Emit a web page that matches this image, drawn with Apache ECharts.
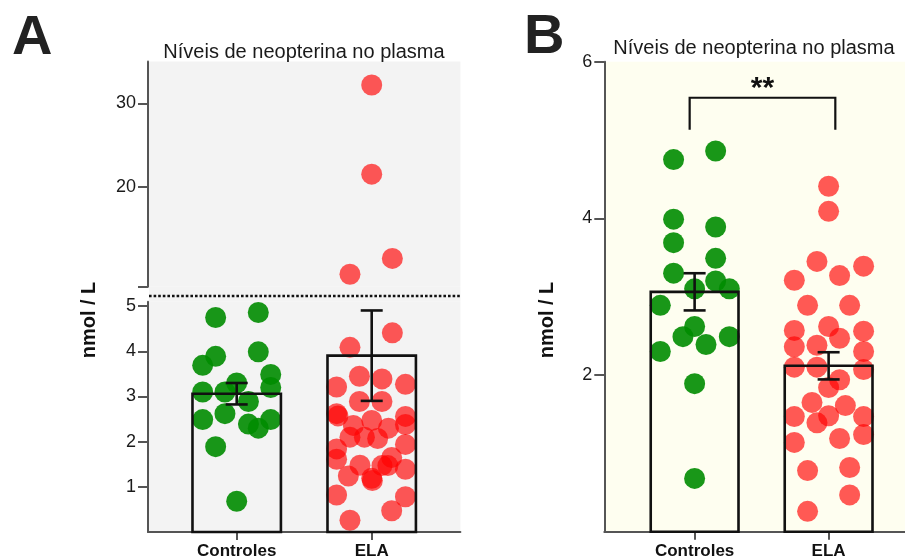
<!DOCTYPE html>
<html>
<head>
<meta charset="utf-8">
<script src="https://cdn.jsdelivr.net/npm/echarts@6/dist/echarts.min.js"></script>
<style>
  html, body { margin: 0; padding: 0; background: #ffffff; }
  #chart { width: 905px; height: 558px; }
</style>
</head>
<body>
<div id="chart"></div>
<script>
// ---- data -------------------------------------------------------------
const categories = ['Controles', 'ELA'];

// plasma neopterin, nmol/L
const ctrlValues = [4.86, 4.75, 3.99, 3.89, 3.69, 3.49, 3.30, 3.20, 3.10, 3.10,
                    2.89, 2.62, 2.49, 2.49, 2.39, 2.30, 1.89, 0.68];
const elaValues = [4.41, 4.09, 3.45, 3.39, 3.27, 3.21, 2.89, 2.89, 2.62, 2.57,
                   2.56, 2.47, 2.38, 2.36, 2.30, 2.10, 2.10, 2.07, 1.94, 1.84,
                   1.65, 1.61, 1.48, 1.47, 1.47, 1.39, 1.24, 1.19, 1.14, 0.82,
                   0.78, 0.47, 0.26];
const elaOutliers = [32.2, 21.5, 11.4, 9.5];   // shown only in panel A

// horizontal scatter of the dots, in category units
const ctrlJitterA = [0.16, -0.156, 0.16, -0.156, -0.252, 0.252, 0, 0.252, -0.252, -0.087,
                     0.087, -0.087, -0.252, 0.252, 0.087, 0.16, -0.156, 0];
const ctrlJitterB = [0.157, -0.157, -0.157, 0.157, -0.157, 0.157, -0.157, 0.157, 0, 0.259,
                     -0.256, 0, -0.087, 0.259, 0.085, -0.256, 0, 0];
const elaJitterA = [0.153, -0.161, -0.091, 0.076, 0.25, -0.26, -0.091, 0.076, -0.26, -0.25,
                    0.25, 0, 0.25, -0.136, 0.124, -0.161, -0.054, 0.044, 0.25, -0.26,
                    0.148, -0.26, -0.087, 0.076, 0.12, 0.25, -0.173, 0, 0.005, -0.26,
                    0.25, 0.148, -0.161];
const elaJitterB = [0, 0, -0.087, 0.261, 0.082, -0.256, -0.157, 0.157, 0, -0.256,
                    0.261, 0.082, -0.087, -0.256, 0.261, -0.256, -0.087, 0.261, 0.082, 0,
                    -0.124, 0.125, 0, -0.256, 0.261, -0.087, 0.261, 0.082, -0.256, 0.157,
                    -0.157, 0.157, -0.157];
const elaOutlierJitterA = [0, 0, 0.153, -0.161];

// axis ticks
const upperTicksA = [8, 20, 30];
const upperLabelsA = [20, 30];
const lowerTicksA = [1, 2, 3, 4, 5];
const ticksB = [2, 4, 6];

const panelTitle = 'Níveis de neopterina no plasma';
const yName = 'nmol / L';
const signifText = '**';

// ---- helpers ----------------------------------------------------------
function mean(a) { return a.reduce((s, v) => s + v, 0) / a.length; }
function sem(a) {
  const m = mean(a);
  const v = a.reduce((s, x) => s + (x - m) * (x - m), 0) / (a.length - 1);
  return Math.sqrt(v / a.length);
}
function dots(values, jitter, cat) { return values.map((v, i) => [cat + jitter[i], v]); }

const elaAll = elaOutliers.concat(elaValues);
const statsA = [ctrlValues, elaAll].map(a => [mean(a), sem(a)]);
const statsB = [ctrlValues, elaValues].map(a => [mean(a), sem(a)]);

const FONT = "'Liberation Sans', Arial, sans-serif";
const AXIS_COLOR = '#555555';
const GREEN = 'rgba(0,140,0,0.9)';
const RED = 'rgba(255,0,0,0.65)';
const BAR_W = 0.655;

function xAxisCfg(grid, span, shown) {
  return {
    gridIndex: grid, type: 'value', min: -span, max: 1 + span, show: shown,
    axisLine: { show: true, onZero: false, lineStyle: { color: AXIS_COLOR, width: 2 } },
    axisTick: { show: true, customValues: [0, 1], length: 8, lineStyle: { color: AXIS_COLOR, width: 2 } },
    axisLabel: { customValues: [0, 1], formatter: v => categories[Math.round(v)],
                 fontFamily: FONT, fontWeight: 'bold', fontSize: 17, color: '#111', margin: 11 },
    splitLine: { show: false }
  };
}
function yAxisCfg(grid, min, max, ticks, labels) {
  return {
    gridIndex: grid, type: 'value', min: min, max: max,
    axisLine: { show: true, onZero: false, lineStyle: { color: AXIS_COLOR, width: 2 } },
    axisTick: { show: true, customValues: ticks, length: 10, lineStyle: { color: AXIS_COLOR, width: 2 } },
    axisLabel: { customValues: labels, fontFamily: FONT, fontSize: 18, color: '#1a1a1a', margin: 12 },
    splitLine: { show: false }
  };
}
function scatter(xi, data, color) {
  return { type: 'scatter', xAxisIndex: xi, yAxisIndex: xi, data: data, symbol: 'circle',
           symbolSize: 21, itemStyle: { color: color, borderWidth: 0, opacity: 1 }, z: 2, silent: true };
}
function bars(xi, stats) {
  return {
    type: 'custom', xAxisIndex: xi, yAxisIndex: xi, z: 3, silent: true,
    data: stats.map((s, i) => [i, s[0]]),
    encode: { x: 0, y: 1 },
    renderItem: function (params, api) {
      const base = api.coord([api.value(0), 0]);
      const top = api.coord([api.value(0), api.value(1)]);
      const w = api.size([BAR_W, 0])[0];
      return { type: 'rect',
        shape: { x: base[0] - w / 2, y: top[1], width: w, height: base[1] - top[1] },
        style: { fill: 'none', stroke: '#111', lineWidth: 2.6 } };
    }
  };
}
function errors(xi, stats) {
  return {
    type: 'custom', xAxisIndex: xi, yAxisIndex: xi, z: 4, silent: true,
    data: stats.map((s, i) => [i, s[0] - s[1], s[0] + s[1]]),
    encode: { x: 0, y: [1, 2] },
    renderItem: function (params, api) {
      const lo = api.coord([api.value(0), api.value(1)]);
      const hi = api.coord([api.value(0), api.value(2)]);
      const c = 11;
      const st = { stroke: '#111', lineWidth: 2.6 };
      return { type: 'group', children: [
        { type: 'line', shape: { x1: lo[0], y1: lo[1], x2: hi[0], y2: hi[1] }, style: st },
        { type: 'line', shape: { x1: hi[0] - c, y1: hi[1], x2: hi[0] + c, y2: hi[1] }, style: st },
        { type: 'line', shape: { x1: lo[0] - c, y1: lo[1], x2: lo[0] + c, y2: lo[1] }, style: st }
      ] };
    }
  };
}

const gridBase = { show: true, borderWidth: 0, containLabel: false, outerBoundsMode: 'none' };
const spanA = 0.657, spanB = 0.674;

const option = {
  animation: false,
  backgroundColor: '#ffffff',
  grid: [
    Object.assign({ left: 148, top: 61.6, width: 312.4, height: 225.2, backgroundColor: '#f3f3f3' }, gridBase),
    Object.assign({ left: 148, top: 301.7, width: 312.4, height: 230.3, backgroundColor: '#f3f3f3' }, gridBase),
    Object.assign({ left: 604.3, top: 61.7, width: 134 * (1 + 2 * spanB), height: 470, backgroundColor: '#fefef0' }, gridBase)
  ],
  xAxis: [xAxisCfg(0, spanA, false), xAxisCfg(1, spanA, true), xAxisCfg(2, spanB, true)],
  yAxis: [
    yAxisCfg(0, 8, 35, upperTicksA, upperLabelsA),
    yAxisCfg(1, 0, 5.1, lowerTicksA, lowerTicksA),
    yAxisCfg(2, 0, 6, ticksB, ticksB)
  ],
  series: [
    // panel A
    scatter(0, dots(elaOutliers, elaOutlierJitterA, 1), RED),
    scatter(1, dots(ctrlValues, ctrlJitterA, 0), GREEN),
    scatter(1, dots(elaValues, elaJitterA, 1), RED),
    bars(1, statsA),
    errors(1, statsA),
    // panel B
    scatter(2, dots(ctrlValues, ctrlJitterB, 0), GREEN),
    scatter(2, dots(elaValues, elaJitterB, 1), RED),
    bars(2, statsB),
    errors(2, statsB),
    {
      // significance bracket between the two groups
      type: 'custom', xAxisIndex: 2, yAxisIndex: 2, z: 5, silent: true, clip: false,
      data: [[-0.037, 1.05, 5.13, 5.54]],
      encode: { x: [0, 1], y: [2, 3] },
      renderItem: function (params, api) {
        const l = api.coord([api.value(0), api.value(2)]);
        const r = api.coord([api.value(1), api.value(2)]);
        const top = api.coord([api.value(0), api.value(3)])[1];
        return { type: 'group', children: [
          { type: 'polyline', shape: { points: [[l[0], l[1]], [l[0], top], [r[0], top], [r[0], r[1]]] },
            style: { stroke: '#111', lineWidth: 2.2, fill: null } },
          { type: 'text', x: (l[0] + r[0]) / 2, y: top - 9,
            style: { text: signifText, fill: '#111', font: 'bold 30px ' + FONT,
                     align: 'center', verticalAlign: 'middle' } }
        ] };
      }
    }
  ],
  graphic: [
    { type: 'rect', silent: true, shape: { x: 149, y: 286.8, width: 311.4, height: 15 }, style: { fill: '#f3f3f3' } },
    { type: 'line', silent: true, shape: { x1: 149, y1: 296, x2: 460, y2: 296 },
      style: { stroke: '#111', lineWidth: 2.5, lineDash: [2.6, 2] } },
    { type: 'text', x: 12, y: 39, style: { text: 'A', font: 'bold 56px ' + FONT, fill: '#222', align: 'left', verticalAlign: 'middle' } },
    { type: 'text', x: 524, y: 38, style: { text: 'B', font: 'bold 56px ' + FONT, fill: '#222', align: 'left', verticalAlign: 'middle' } },
    { type: 'text', x: 304, y: 52, style: { text: panelTitle, font: '20px ' + FONT, fill: '#1a1a1a', align: 'center', verticalAlign: 'middle' } },
    { type: 'text', x: 754, y: 48.5, style: { text: panelTitle, font: '20px ' + FONT, fill: '#1a1a1a', align: 'center', verticalAlign: 'middle' } },
    { type: 'text', x: 89, y: 320, rotation: Math.PI / 2, style: { text: yName, font: 'bold 20px ' + FONT, fill: '#111', align: 'center', verticalAlign: 'middle' } },
    { type: 'text', x: 547, y: 320, rotation: Math.PI / 2, style: { text: yName, font: 'bold 20px ' + FONT, fill: '#111', align: 'center', verticalAlign: 'middle' } }
  ]
};

const chart = echarts.init(document.getElementById('chart'), null, { renderer: 'canvas' });
chart.setOption(option);
</script>
</body>
</html>
